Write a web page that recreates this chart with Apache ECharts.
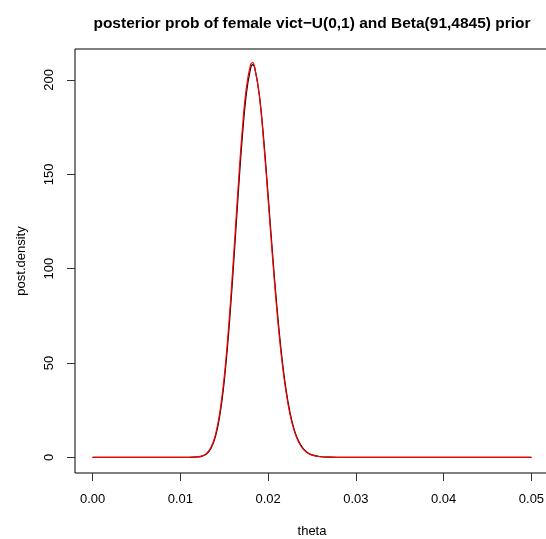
<!DOCTYPE html>
<html>
<head>
<meta charset="utf-8">
<script src="https://cdn.jsdelivr.net/npm/echarts@6/dist/echarts.min.js"></script>
<style>
html,body{margin:0;padding:0;background:#fff;}
#chart{width:546px;height:539px;}
</style>
</head>
<body>
<div id="chart"></div>
<script>
// theta grid (x values)
var theta = [0, 0.005, 0.010, 0.011, 0.012, 0.0125, 0.013, 0.0135, 0.014, 0.0145, 0.015, 0.0155, 0.016, 0.0165, 0.017, 0.0175, 0.018, 0.01825, 0.0185, 0.019, 0.0195, 0.020, 0.0205, 0.021, 0.0215, 0.022, 0.0225, 0.023, 0.0235, 0.024, 0.0245, 0.025, 0.026, 0.027, 0.028, 0.030, 0.035, 0.040, 0.045, 0.050];
// black curve: posterior density
var blackDensity = [0, 0, 0.0003, 0.01, 0.19, 0.65, 1.90, 4.87, 11.0, 22.2, 40.2, 65.7, 97.7, 132.9, 166.2, 191.9, 206.1, 208.1, 205.9, 192.3, 168.5, 139.0, 108.3, 79.9, 55.9, 37.2, 23.6, 14.3, 8.32, 4.63, 2.47, 1.27, 0.30, 0.06, 0.01, 0, 0, 0, 0, 0];
// red curve: posterior density with Beta(91,4845) prior
var redDensity = [0, 0, 0.0004, 0.012, 0.20, 0.74, 2.12, 5.36, 11.94, 23.8, 42.6, 69.0, 101.7, 137.1, 170.2, 195.1, 208.1, 209.2, 206.0, 191.6, 166.8, 136.8, 106.0, 77.7, 54.1, 35.8, 22.6, 13.6, 7.88, 4.37, 2.32, 1.18, 0.28, 0.05, 0.008, 0, 0, 0, 0, 0];
// tick labels
var xTicks = [0, 0.01, 0.02, 0.03, 0.04, 0.05];
var yTicks = [0, 50, 100, 150, 200];
var titleText = 'posterior prob of female vict\u2212U(0,1) and Beta(91,4845) prior';

function pairs(xs, ys){ return xs.map(function(x,i){ return [x, ys[i]]; }); }

var FONT = 'Liberation Sans, Arial, Helvetica, sans-serif';
var chart = echarts.init(document.getElementById('chart'), null, {renderer:'canvas'});
chart.setOption({
  animation: false,
  backgroundColor: '#ffffff',
  title: {
    text: titleText,
    left: 307, top: 11, textAlign: 'center',
    textStyle: {fontFamily: FONT, fontSize: 15.5, fontWeight: 'bold', color: '#000'}
  },
  grid: {
    left: 75, top: 49, width: 474, height: 424,
    outerBoundsMode: 'none', containLabel: false,
    show: true, borderColor: '#000', borderWidth: 1, backgroundColor: 'transparent'
  },
  xAxis: {
    type: 'value', min: -0.002, max: 0.052,
    name: 'theta', nameLocation: 'middle', nameGap: 52,
    nameTextStyle: {fontFamily: FONT, fontSize: 13, color: '#000'},
    axisLine: {show: false, onZero: false},
    splitLine: {show: false},
    axisTick: {show: true, inside: false, length: 8, customValues: xTicks, lineStyle: {color: '#333', width: 1}},
    axisLabel: {show: true, margin: 20, customValues: xTicks, fontFamily: FONT, fontSize: 13, color: '#000',
      formatter: function(v){ return v.toFixed(2); }}
  },
  yAxis: {
    type: 'value', min: -8.32, max: 216.4,
    name: 'post.density', nameLocation: 'middle', nameGap: 47, nameRotate: 90,
    nameTextStyle: {fontFamily: FONT, fontSize: 13, color: '#000'},
    axisLine: {show: false, onZero: false},
    splitLine: {show: false},
    axisTick: {show: true, inside: false, length: 8, customValues: yTicks, lineStyle: {color: '#333', width: 1}},
    axisLabel: {show: true, margin: 19, rotate: 90, customValues: yTicks, fontFamily: FONT, fontSize: 13, color: '#000',
      formatter: function(v){ return String(v); }}
  },
  series: [
    {
      type: 'line', name: 'black', data: pairs(theta, blackDensity),
      showSymbol: false, smooth: 0.4,
      lineStyle: {color: '#000000', width: 1.2}, z: 2
    },
    {
      type: 'line', name: 'red', data: pairs(theta, redDensity),
      showSymbol: false, smooth: 0.4,
      lineStyle: {color: '#ff0000', width: 1.2}, z: 3
    }
  ]
});
</script>
</body>
</html>
